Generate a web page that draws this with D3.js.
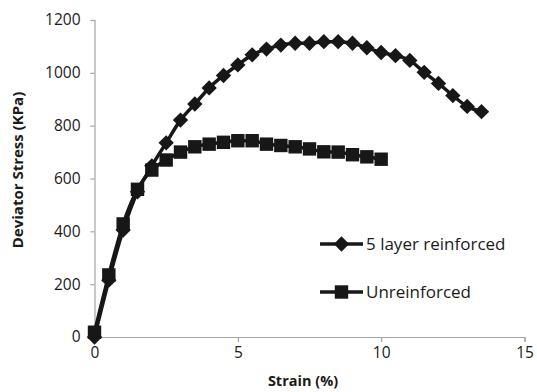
<!DOCTYPE html>
<html>
<head>
<meta charset="utf-8">
<script src="https://cdn.jsdelivr.net/npm/d3@7"></script>
<style>
  body { margin: 0; background: #fff; }
  svg { display: block; font-family: "Open Sans", sans-serif; }
</style>
</head>
<body>
<div id="wrapper"></div>
<script>
// strain (%) and deviator stress (kPa)
const reinforcedStrain = [0, 0.5, 1, 1.5, 2, 2.5, 3, 3.5, 4, 4.5, 5, 5.5, 6, 6.5, 7, 7.5, 8, 8.5, 9, 9.5, 10, 10.5, 11, 11.5, 12, 12.5, 13, 13.5]
const reinforcedStress = [0, 215, 405, 550, 648, 735, 821, 882, 943, 990, 1030, 1068, 1090, 1105, 1112, 1112, 1118, 1118, 1112, 1095, 1077, 1065, 1047, 1002, 960, 914, 873, 853]

const unreinforcedStrain = [0, 0.5, 1, 1.5, 2, 2.5, 3, 3.5, 4, 4.5, 5, 5.5, 6, 6.5, 7, 7.5, 8, 8.5, 9, 9.5, 10]
const unreinforcedStress = [18, 235, 428, 559, 632, 670, 700, 720, 730, 737, 743, 743, 730, 725, 720, 712, 701, 700, 690, 682, 673]

const xTicks = [0, 5, 10, 15]
const yTicks = [0, 200, 400, 600, 800, 1000, 1200]
const seriesNames = ["5 layer reinforced", "Unreinforced"]

const reinforced = reinforcedStrain.map((s, i) => [s, reinforcedStress[i]])
const unreinforced = unreinforcedStrain.map((s, i) => [s, unreinforcedStress[i]])

const width = 537
const height = 392
const margin = { top: 20, right: 12.5, bottom: 55, left: 94.5 }
const boundedWidth = width - margin.left - margin.right
const boundedHeight = height - margin.top - margin.bottom

const svg = d3.select("#wrapper").append("svg")
    .attr("width", width)
    .attr("height", height)

const bounds = svg.append("g")
    .attr("transform", `translate(${margin.left},${margin.top})`)

const xScale = d3.scaleLinear().domain([0, 15]).range([0, boundedWidth])
const yScale = d3.scaleLinear().domain([0, 1200]).range([boundedHeight, 0])

// axes
const xAxis = bounds.append("g")
    .attr("transform", `translate(0,${boundedHeight})`)
    .call(d3.axisBottom(xScale).tickValues(xTicks).tickSize(5).tickPadding(5).tickFormat(d3.format("d")))
const yAxis = bounds.append("g")
    .call(d3.axisLeft(yScale).tickValues(yTicks).tickSize(4).tickPadding(10).tickFormat(d3.format("d")))

for (const ax of [xAxis, yAxis]) {
  ax.select(".domain").attr("stroke", "#a6a6a6").attr("stroke-width", 1.2)
  ax.selectAll(".tick line").attr("stroke", "#a6a6a6").attr("stroke-width", 1.2)
  ax.selectAll(".tick text")
      .attr("fill", "#1a1a1a")
      .style("font-size", "15.5px")
      .style("font-family", "Open Sans, sans-serif")
}

// lines
const line = d3.line()
    .x(d => xScale(d[0]))
    .y(d => yScale(d[1]))
    .curve(d3.curveMonotoneX)

const ink = "#171717"

bounds.append("path")
    .attr("d", line(unreinforced))
    .attr("fill", "none")
    .attr("stroke", ink)
    .attr("stroke-width", 3.5)

bounds.append("path")
    .attr("d", line(reinforced))
    .attr("fill", "none")
    .attr("stroke", ink)
    .attr("stroke-width", 3.5)

const square = d3.symbol().type(d3.symbolSquare).size(180)
const diamond = d3.symbol().type(d3.symbolDiamond2).size(150)

bounds.selectAll(".sq")
  .data(unreinforced)
  .join("path")
    .attr("class", "sq")
    .attr("d", square)
    .attr("transform", d => `translate(${xScale(d[0])},${yScale(d[1])})`)
    .attr("fill", ink)

bounds.selectAll(".dm")
  .data(reinforced)
  .join("path")
    .attr("class", "dm")
    .attr("d", diamond)
    .attr("transform", d => `translate(${xScale(d[0])},${yScale(d[1])})`)
    .attr("fill", ink)

// legend
const legend = svg.append("g").attr("transform", "translate(320,0)")
const legendRows = [
  { name: seriesNames[0], y: 244, sym: diamond },
  { name: seriesNames[1], y: 292, sym: square },
]
legendRows.forEach(r => {
  legend.append("line")
      .attr("x1", 0).attr("x2", 43)
      .attr("y1", r.y).attr("y2", r.y)
      .attr("stroke", ink).attr("stroke-width", 3.5)
  legend.append("path")
      .attr("d", r.sym)
      .attr("transform", `translate(21.5,${r.y})`)
      .attr("fill", ink)
  legend.append("text")
      .attr("x", 46)
      .attr("y", r.y)
      .attr("dy", "0.36em")
      .attr("fill", "#1a1a1a")
      .style("font-size", "17px")
      .text(r.name)
})

// axis titles
svg.append("text")
    .attr("x", 303)
    .attr("y", 386)
    .attr("text-anchor", "middle")
    .attr("fill", "#1a1a1a")
    .style("font-size", "14.5px")
    .style("font-weight", "bold")
    .text("Strain (%)")

svg.append("text")
    .attr("transform", "translate(23,170) rotate(-90)")
    .attr("text-anchor", "middle")
    .attr("fill", "#1a1a1a")
    .style("font-size", "15px")
    .style("font-weight", "bold")
    .text("Deviator Stress (KPa)")
</script>
</body>
</html>
